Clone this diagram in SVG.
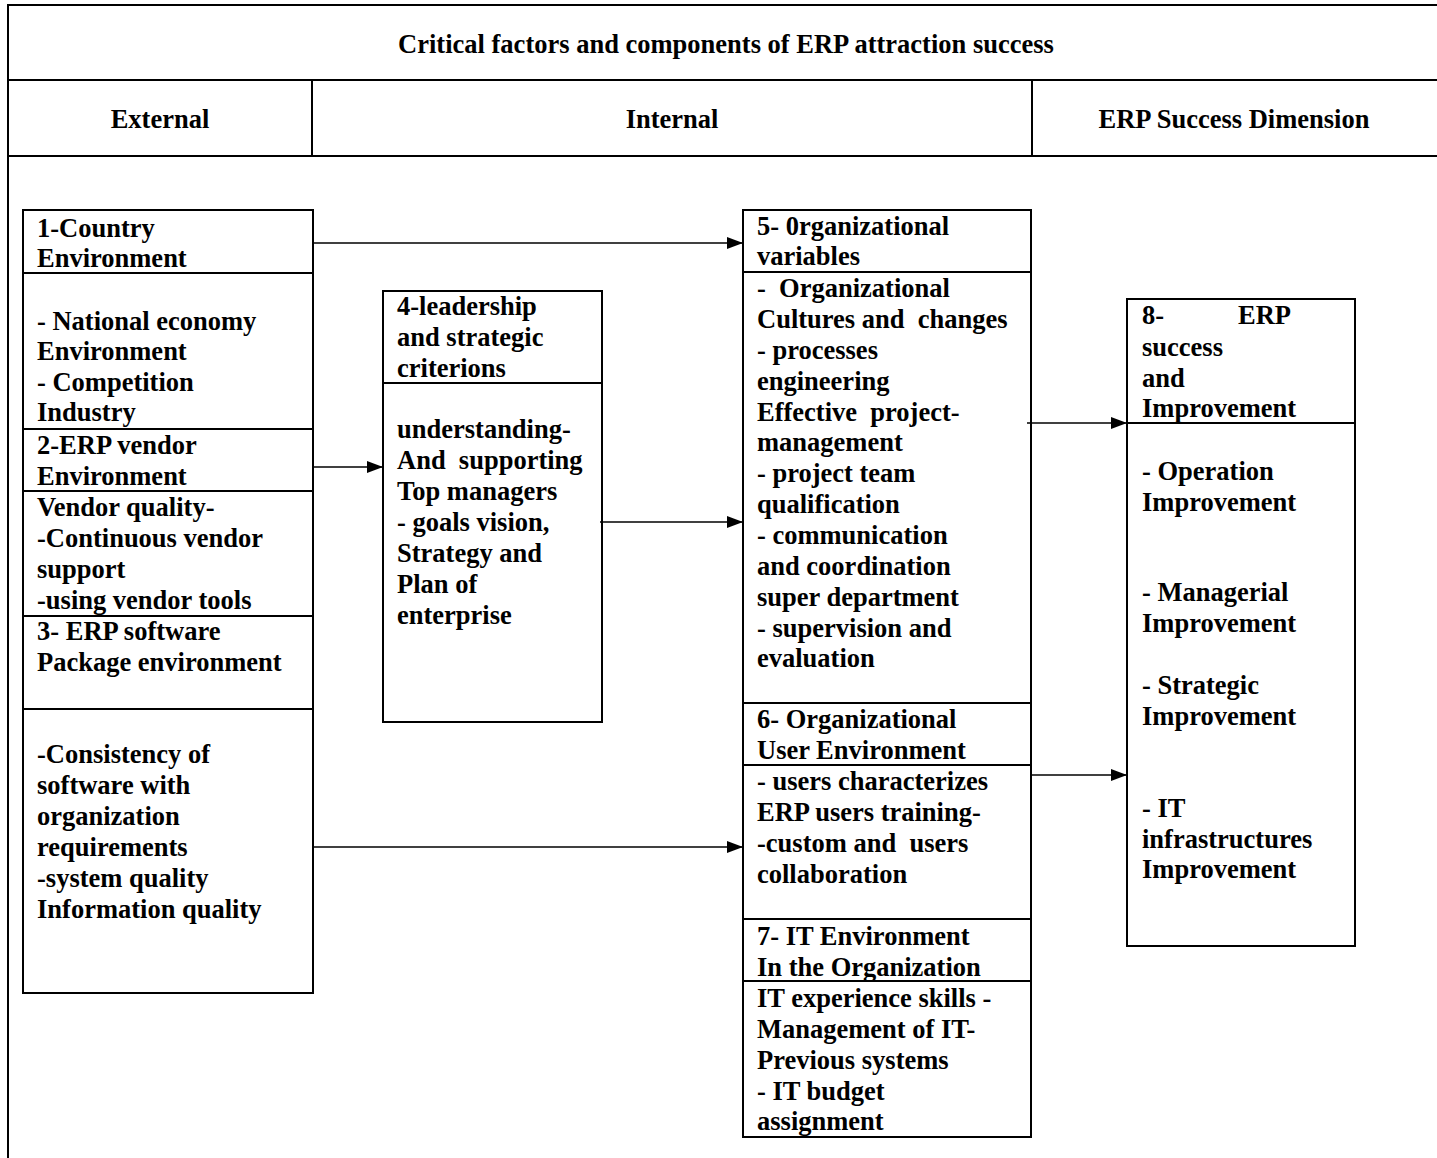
<svg xmlns="http://www.w3.org/2000/svg" width="1437" height="1158" viewBox="0 0 1437 1158">
<defs>
<marker id="ah" markerWidth="16" markerHeight="12" refX="16" refY="6" orient="auto" markerUnits="userSpaceOnUse">
<path d="M0,0 L16,6 L0,12 Z" fill="#000"/>
</marker>
<style>
text{font-family:"Liberation Serif","Times New Roman",serif;font-weight:bold;font-size:26.5px;fill:#000}
.hd{font-size:26.5px}
.box{fill:#fff;stroke:#000;stroke-width:2}
.ln{stroke:#000;stroke-width:2;fill:none}
.conn{stroke:#000;stroke-width:1.5;fill:none;marker-end:url(#ah)}
</style>
</defs>
<rect width="1437" height="1158" fill="#fff"/>
<g id="frame">
<path class="ln" d="M8,1158 V5 H1437 M8,80 H1437 M8,156 H1437 M312,80 V156 M1032,80 V156"/>
<text class="hd" x="726" y="53" text-anchor="middle">Critical factors and components of ERP attraction success</text>
<text class="hd" x="160" y="128" text-anchor="middle">External</text>
<text class="hd" x="672" y="128" text-anchor="middle">Internal</text>
<text class="hd" x="1234" y="128" text-anchor="middle">ERP Success Dimension</text>
</g>
<g id="external">
<rect class="box" x="23" y="210" width="290" height="783"/>
<path class="ln" d="M23,273 H313 M23,429 H313 M23,491 H313 M23,616 H313 M23,709 H313"/>
<text x="37" y="237">1-Country</text>
<text x="37" y="267">Environment</text>
<text x="37" y="330">- National economy</text>
<text x="37" y="360">Environment</text>
<text x="37" y="391">- Competition</text>
<text x="37" y="421">Industry</text>
<text x="37" y="454">2-ERP vendor</text>
<text x="37" y="485">Environment</text>
<text x="37" y="516">Vendor quality-</text>
<text x="37" y="547">-Continuous vendor</text>
<text x="37" y="578">support</text>
<text x="37" y="609">-using vendor tools</text>
<text x="37" y="640">3- ERP software</text>
<text x="37" y="671">Package environment</text>
<text x="37" y="763">-Consistency of</text>
<text x="37" y="794">software with</text>
<text x="37" y="825">organization</text>
<text x="37" y="856">requirements</text>
<text x="37" y="887">-system quality</text>
<text x="37" y="918">Information quality</text>
</g>
<g id="leadership">
<rect class="box" x="383" y="291" width="219" height="431"/>
<path class="ln" d="M383,383 H602"/>
<text x="397" y="315">4-leadership</text>
<text x="397" y="346">and strategic</text>
<text x="397" y="377">criterions</text>
<text x="397" y="438">understanding-</text>
<text x="397" y="469" xml:space="preserve">And  supporting</text>
<text x="397" y="500">Top managers</text>
<text x="397" y="531">- goals vision,</text>
<text x="397" y="562">Strategy and</text>
<text x="397" y="593">Plan of</text>
<text x="397" y="624">enterprise</text>
</g>
<g id="organizational">
<rect class="box" x="743" y="210" width="288" height="927"/>
<path class="ln" d="M743,272 H1031 M743,703 H1031 M743,765 H1031 M743,919 H1031 M743,981 H1031"/>
<text x="757" y="235">5- 0rganizational</text>
<text x="757" y="265">variables</text>
<text x="757" y="297" xml:space="preserve">-  Organizational</text>
<text x="757" y="328" xml:space="preserve">Cultures and  changes</text>
<text x="757" y="359">- processes</text>
<text x="757" y="390">engineering</text>
<text x="757" y="421" xml:space="preserve">Effective  project-</text>
<text x="757" y="451">management</text>
<text x="757" y="482">- project team</text>
<text x="757" y="513">qualification</text>
<text x="757" y="544">- communication</text>
<text x="757" y="575">and coordination</text>
<text x="757" y="606">super department</text>
<text x="757" y="637">- supervision and</text>
<text x="757" y="667">evaluation</text>
<text x="757" y="728">6- Organizational</text>
<text x="757" y="759">User Environment</text>
<text x="757" y="790">- users characterizes</text>
<text x="757" y="821">ERP users training-</text>
<text x="757" y="852" xml:space="preserve">-custom and  users</text>
<text x="757" y="883">collaboration</text>
<text x="757" y="945">7- IT Environment</text>
<text x="757" y="976">In the Organization</text>
<text x="757" y="1007">IT experience skills -</text>
<text x="757" y="1038">Management of IT-</text>
<text x="757" y="1069">Previous systems</text>
<text x="757" y="1100">- IT budget</text>
<text x="757" y="1130">assignment</text>
</g>
<g id="success">
<rect class="box" x="1127" y="299" width="228" height="647"/>
<path class="ln" d="M1127,423 H1355"/>
<text x="1142" y="324">8-</text>
<text x="1291" y="324" text-anchor="end">ERP</text>
<text x="1142" y="356">success</text>
<text x="1142" y="387">and</text>
<text x="1142" y="417">Improvement</text>
<text x="1142" y="480">- Operation</text>
<text x="1142" y="511">Improvement</text>
<text x="1142" y="601">- Managerial</text>
<text x="1142" y="632">Improvement</text>
<text x="1142" y="694">- Strategic</text>
<text x="1142" y="725">Improvement</text>
<text x="1142" y="817">- IT</text>
<text x="1142" y="848">infrastructures</text>
<text x="1142" y="878">Improvement</text>
</g>
<g id="connectors">
<line class="conn" x1="313" y1="243" x2="743" y2="243"/>
<line class="conn" x1="313" y1="467" x2="383" y2="467"/>
<line class="conn" x1="600" y1="522" x2="743" y2="522"/>
<line class="conn" x1="313" y1="847" x2="743" y2="847"/>
<line class="conn" x1="1027" y1="423" x2="1127" y2="423"/>
<line class="conn" x1="1031" y1="775" x2="1127" y2="775"/>
</g>
</svg>
